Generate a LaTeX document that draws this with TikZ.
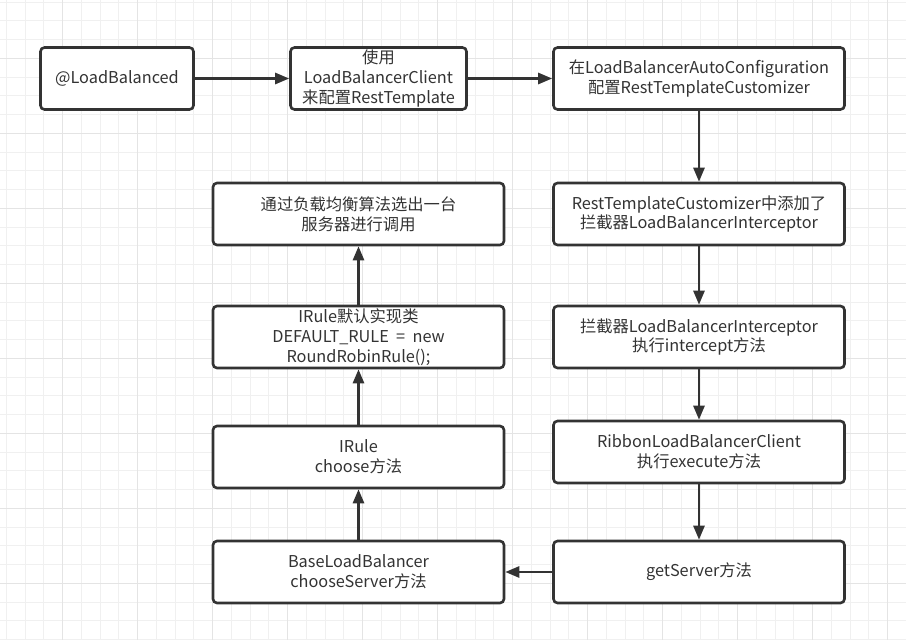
\documentclass[tikz,border=0pt]{standalone}
\usepackage{fontspec}
\setmainfont{Noto Sans CJK SC}
\usetikzlibrary{arrows.meta}
\definecolor{ink}{HTML}{333333}
\definecolor{gridminor}{HTML}{F0F0F0}
\definecolor{gridmajor}{HTML}{E4E4E4}
\tikzset{
  box/.style={draw=ink, line width=2.6pt, rounded corners=4pt, fill=white,
    minimum width=291pt, minimum height=62pt, align=center, text=ink,
    font=\fontsize{16.3}{19.8}\selectfont, inner sep=2pt},
  flow/.style={draw=ink, line width=2.6pt, -{Triangle[length=14pt,width=11pt]}},
}
\begin{document}
\begin{tikzpicture}[x=1pt,y=-1pt]
\useasboundingbox (0,0) rectangle (906,640);
\fill[white] (0,0) rectangle (906,640);
% grid
\foreach \i in {0,...,48} {
  \pgfmathsetmacro\gx{6.45+18.75*\i}
  \draw[gridminor, line width=1pt] (\gx,0) -- (\gx,640);
}
\foreach \i in {0,...,34} {
  \pgfmathsetmacro\gy{2.05+18.75*\i}
  \draw[gridminor, line width=1pt] (0,\gy) -- (906,\gy);
}
\foreach \i in {0,...,12} {
  \pgfmathsetmacro\gx{-12.3+75*\i}
  \draw[gridmajor, line width=1pt] (\gx,0) -- (\gx,640);
}
\foreach \i in {0,...,8} {
  \pgfmathsetmacro\gy{-16.7+75*\i}
  \draw[gridmajor, line width=1pt] (0,\gy) -- (906,\gy);
}
% nodes
\node[box, minimum width=153pt, minimum height=62pt] (b1) at (117,78.5) {@LoadBalanced};
\node[box, minimum width=176pt, minimum height=62pt] (b2) at (378.5,78.5) {使用\\LoadBalancerClient\\来配置RestTemplate};
\node[box] (b3) at (699,78.5) {在LoadBalancerAutoConfiguration\\配置RestTemplateCustomizer};
\node[box] (b4) at (699,214) {RestTemplateCustomizer中添加了\\拦截器LoadBalancerInterceptor};
\node[box] (b5) at (699,337) {拦截器LoadBalancerInterceptor\\执行intercept方法};
\node[box] (b6) at (699,452) {RibbonLoadBalancerClient\\执行execute方法};
\node[box] (b7) at (699,572) {getServer方法};
\node[box] (b8) at (358.5,572) {BaseLoadBalancer\\chooseServer方法};
\node[box] (b9) at (358.5,457) {IRule\\choose方法};
\node[box] (b10) at (358.5,337) {IRule默认实现类\\DEFAULT\_RULE\ \ =\ \ new\\RoundRobinRule();};
\node[box] (b11) at (358.5,214) {通过负载均衡算法选出一台\\服务器进行调用};
% connectors
\draw[flow] (b1) -- (b2);
\draw[flow] (b2) -- (b3);
\draw[flow] (b3) -- (b4);
\draw[flow] (b4) -- (b5);
\draw[flow] (b5) -- (b6);
\draw[flow] (b6) -- (b7);
\draw[flow] (b7) -- (b8);
\draw[flow] (b8) -- (b9);
\draw[flow] (b9) -- (b10);
\draw[flow] (b10) -- (b11);
\end{tikzpicture}
\end{document}
